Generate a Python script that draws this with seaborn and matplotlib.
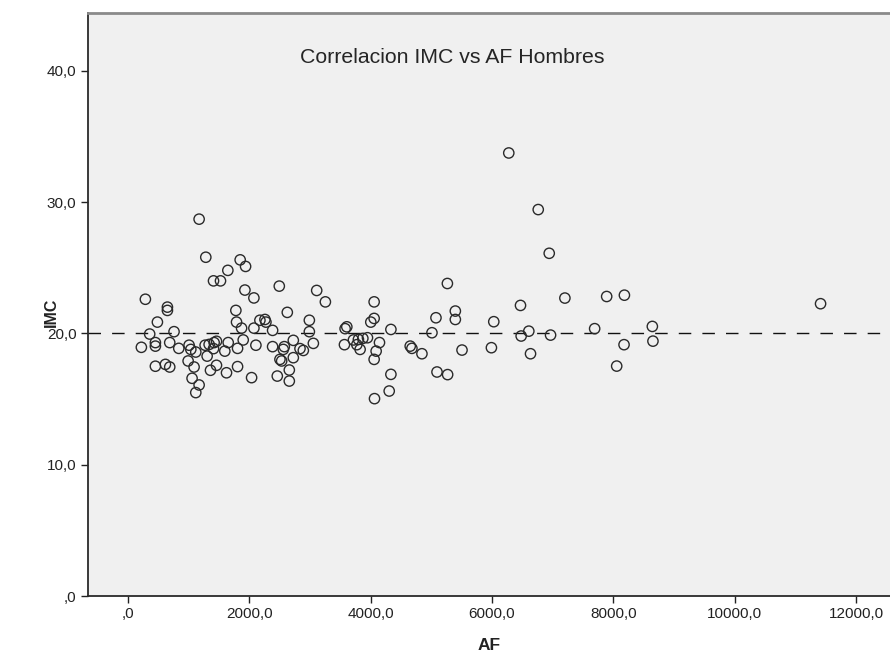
import matplotlib
matplotlib.use("Agg")
import matplotlib.pyplot as plt
import matplotlib.ticker as mticker
import seaborn as sns
import pandas as pd

# Physical activity (AF) and body-mass index (IMC) for the male group
af = [
    1177, 1287, 1853, 1942, 1650, 1414, 1529, 1931, 2079, 292,
    655, 655, 1782, 490, 1793, 1876, 764, 2079, 363, 226,
    457, 457, 693, 842, 1012, 1040, 1122, 1276, 1342, 1424,
    1463, 1414, 1600, 1656, 1810, 1903, 2112, 1309, 996, 457,
    622, 693, 1094, 1463, 1364, 1628, 1810, 2041, 1061, 1177,
    1122,
    2497, 3113, 3256, 2629, 4059, 2992, 4059, 4004, 2178, 2261,
    2277, 2387, 2992, 3609, 3581, 4335, 2387, 2728, 2580, 2563,
    2838, 2893, 3058, 3570, 3718, 3800, 3873, 3949, 3828, 3774,
    4147, 4092, 4059, 2508, 2536, 2728, 2662, 2464, 2662, 4335,
    4307, 4065,
    5077, 5396, 5396, 5011, 4653, 4681, 4846, 5506, 6029, 5990,
    6469, 6606, 6480, 6634, 5094, 5269, 5265,
    6276, 6761, 6942, 7200, 7888, 8180, 6964, 7690, 8174, 8053,
    8640, 8650, 11410,
]
imc = [
    28.7, 25.8, 25.6, 25.1, 24.8, 24.0, 24.0, 23.3, 22.7, 22.6,
    22.0, 21.75, 21.75, 20.86, 20.86, 20.4, 20.13, 20.4, 19.95, 18.94,
    19.3, 19.03, 19.3, 18.86, 19.1, 18.78, 18.58, 19.1, 19.16, 19.3,
    19.4, 18.84, 18.65, 19.3, 18.86, 19.5, 19.1, 18.27, 17.9, 17.5,
    17.64, 17.44, 17.44, 17.57, 17.19, 17.0, 17.47, 16.63, 16.58, 16.07,
    15.49,
    23.6, 23.27, 22.4, 21.6, 22.4, 21.0, 21.14, 20.86, 21.0, 21.06,
    20.86, 20.23, 20.13, 20.5, 20.36, 20.3, 18.99, 19.47, 18.99, 18.78,
    18.84, 18.7, 19.24, 19.14, 19.5, 19.54, 19.62, 19.67, 18.78, 19.14,
    19.3, 18.65, 18.02, 18.02, 17.9, 18.15, 17.21, 16.75, 16.37, 16.88,
    15.61, 15.03,
    21.19, 21.7, 21.06, 20.05, 19.03, 18.86, 18.45, 18.73, 20.89, 18.91,
    22.13, 20.17, 19.8, 18.45, 17.06, 16.86, 23.8,
    33.74, 29.43, 26.1, 22.69, 22.81, 22.91, 19.87, 20.36, 19.14, 17.51,
    20.53, 19.41, 22.26,
]
reference_imc = 20.0
x_ticks = [0, 2000, 4000, 6000, 8000, 10000, 12000]
y_ticks = [0, 10, 20, 30, 40]
title_text = "Correlacion IMC vs AF Hombres"

df = pd.DataFrame({"AF": af, "IMC": imc})

sns.set_style("white")
plt.rcParams["font.family"] = ["Liberation Sans", "DejaVu Sans"]
plt.rcParams["lines.scale_dashes"] = False

fig = plt.figure(figsize=(8.9, 6.55), dpi=100)
fig.patch.set_facecolor("white")
ax = fig.add_axes([87.5 / 890, 59 / 655, 1 - 87.5 / 890 + 0.01, 583 / 655])
ax.set_facecolor("#f0f0f0")

sns.scatterplot(
    data=df, x="AF", y="IMC", ax=ax,
    marker="o", s=55, facecolor="none", edgecolor="#2a2a2a",
    linewidth=1.0, zorder=3,
)

ax.axhline(reference_imc, color="#111111", linewidth=1.0,
           dashes=(9, 8), zorder=2)

ax.set_xlim(-661, 12700)
ax.set_ylim(0, 44.4)
ax.set_xticks(x_ticks)
ax.set_yticks(y_ticks)


def spss_fmt(v, pos=None):
    s = f"{v:.1f}".replace(".", ",")
    if s.startswith("0,"):
        s = s[1:]
    return s


ax.xaxis.set_major_formatter(mticker.FuncFormatter(spss_fmt))
ax.yaxis.set_major_formatter(mticker.FuncFormatter(spss_fmt))
ax.tick_params(axis="both", direction="out", length=5, width=1.0,
               colors="#222222", labelsize=11, pad=3,
               bottom=True, left=True)

for side in ("left", "bottom"):
    ax.spines[side].set_color("#2a2a2a")
    ax.spines[side].set_linewidth(1.3)
ax.spines["top"].set_color("#8a8a8a")
ax.spines["top"].set_linewidth(2.0)
ax.spines["right"].set_visible(False)

ax.set_xlabel("")
ax.set_ylabel("")
fig.text(489 / 890, 1 - 645 / 655, "AF", ha="center", va="center",
         fontsize=12.5, fontweight="bold", color="#222222")
fig.text(51 / 890, 1 - 312 / 655, "IMC", ha="center", va="center",
         rotation=90, fontsize=11.5, fontweight="bold", color="#222222")

ax.text(0.449, 0.923, title_text, transform=ax.transAxes,
        ha="center", va="center", fontsize=15.3, color="#252525")

fig.savefig("out.png", dpi=100, facecolor="white")
